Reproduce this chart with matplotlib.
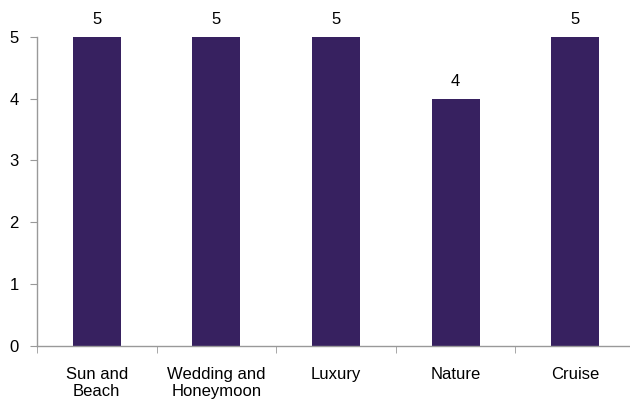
import matplotlib
matplotlib.use("Agg")
import matplotlib.pyplot as plt
from matplotlib.ticker import FixedLocator

categories = ["Sun and\nBeach", "Wedding and\nHoneymoon", "Luxury", "Nature", "Cruise"]
values = [5, 5, 5, 4, 5]

plt.rcParams['font.family'] = ['Liberation Sans', 'DejaVu Sans']

fig = plt.figure(figsize=(6.30, 4.04), dpi=100)
ax = fig.add_axes([37/630, 58/404, 598/630, 309.3/404])

x = list(range(len(categories)))
bars = ax.bar(x, values, width=0.4, color='#372160')

for xi, v in zip(x, values):
    ax.annotate(str(v), (xi, v), xytext=(0, 7), textcoords='offset points',
                ha='center', va='bottom', fontsize=12, color='black')

ax.set_xlim(-0.5, len(categories) - 0.5)
ax.set_ylim(0, 5)
ax.set_yticks([0, 1, 2, 3, 4, 5])
ax.set_xticks(x)
ax.set_xticklabels(categories, fontsize=12)
ax.xaxis.set_minor_locator(FixedLocator([i - 0.5 for i in range(len(categories) + 1)]))
ax.tick_params(axis='x', which='major', length=0, pad=15)
ax.tick_params(axis='x', which='minor', length=5, color='#999999', direction='out')
ax.tick_params(axis='y', which='major', length=5, color='#999999', labelsize=12, pad=8)

for s in ['top', 'right']:
    ax.spines[s].set_visible(False)
for s in ['left', 'bottom']:
    ax.spines[s].set_color('#999999')
    ax.spines[s].set_linewidth(1.0)

fig.savefig("out.png", dpi=100)
